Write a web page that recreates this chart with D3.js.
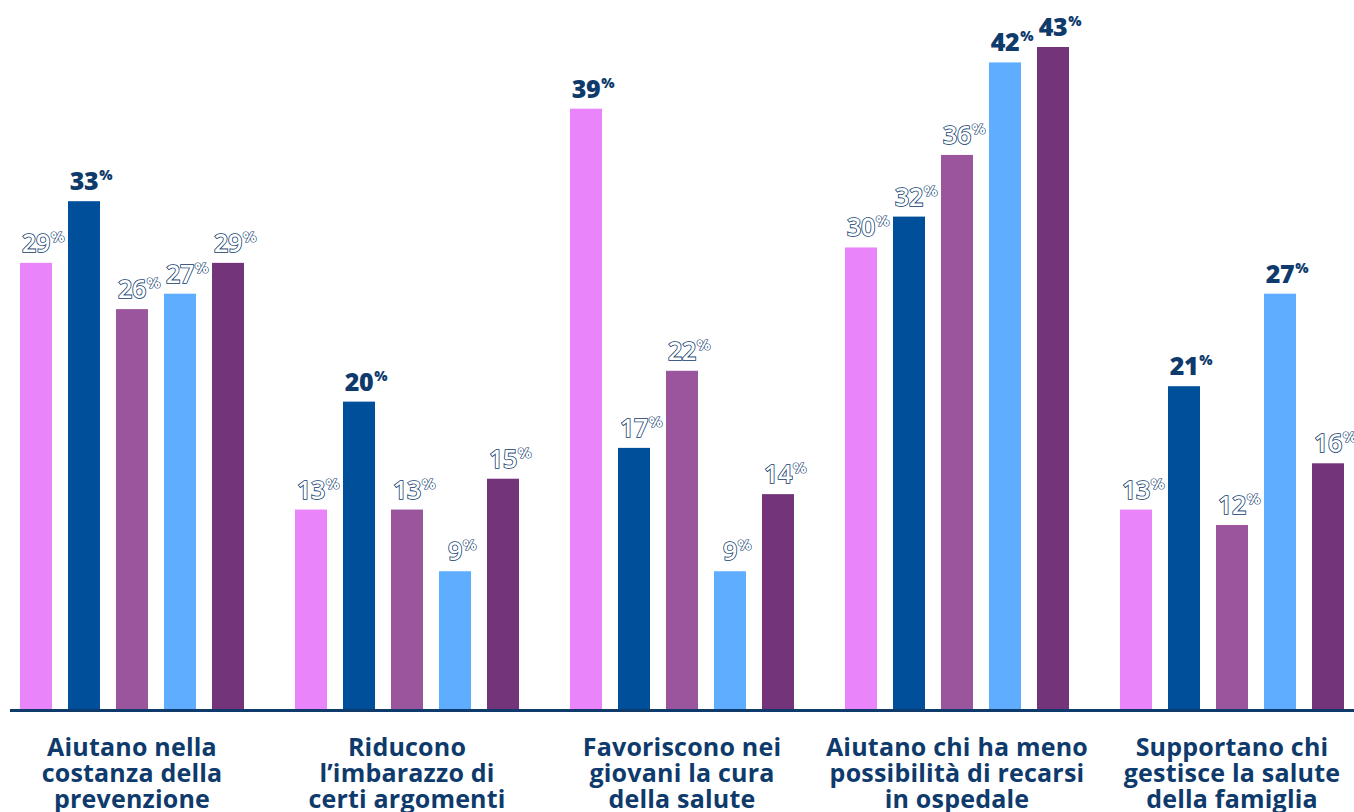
<!DOCTYPE html>
<meta charset="utf-8">
<script src="https://d3js.org/d3.v7.min.js"></script>
<style>body{margin:0;background:#fff}</style>
<div id="chart"></div>
<script>
    const categories = [
        ["Aiutano nella", "costanza della", "prevenzione"],
        ["Riducono", "l’imbarazzo di", "certi argomenti"],
        ["Favoriscono nei", "giovani la cura", "della salute"],
        ["Aiutano chi ha meno", "possibilità di recarsi", "in ospedale"],
        ["Supportano chi", "gestisce la salute", "della famiglia"]
    ];
    const series = ["s1", "s2", "s3", "s4", "s5"];
    const values = [
        [29, 33, 26, 27, 29],
        [13, 20, 13, 9, 15],
        [39, 17, 22, 9, 14],
        [30, 32, 36, 42, 43],
        [13, 21, 12, 27, 16]
    ];
    // which labels are drawn filled/bold
    const highlight = [
        [0, 1, 0, 0, 0],
        [0, 1, 0, 0, 0],
        [1, 0, 0, 0, 0],
        [0, 0, 0, 1, 1],
        [0, 1, 0, 1, 0]
    ];
    const colors = ["#E984FA", "#004F9B", "#9A559C", "#5EADFF", "#733479"];
    const navy = "#0E3A6C";

    const W = 1354, H = 812, base = 710, font = "'Open Sans', sans-serif";

    const svg = d3.select("#chart").append("svg")
        .attr("width", W).attr("height", H);

    const x1 = d3.scaleBand()
        .domain(series)
        .range([0, 224])
        .paddingInner(1/3).paddingOuter(0);
    // bars of group g start at 20 + 275*g
    const gx = g => 20 + 275*g;

    const y = d3.scaleLinear().domain([0, 43]).range([base, 47]);

    const groups = svg.selectAll("g.grp")
        .data(values)
        .join("g")
        .attr("class", "grp")
        .attr("transform", (d, g) => `translate(${gx(g)},0)`);

    groups.selectAll("rect")
        .data(d => d)
        .join("rect")
        .attr("x", (d, i) => x1(series[i]))
        .attr("y", d => y(d))
        .attr("width", x1.bandwidth())
        .attr("height", d => base - y(d))
        .attr("fill", (d, i) => colors[i]);

    groups.each(function (vals, g) {
        const grp = d3.select(this);
        vals.forEach((v, i) => {
            const cx = x1(series[i]) + x1.bandwidth()/2;
            const hl = highlight[g][i];
            const t = grp.append("text")
                .attr("x", cx)
                .attr("y", y(v) - 11)
                .attr("text-anchor", "middle")
                .attr("font-family", font)
                .attr("font-size", 25)
                .attr("font-weight", hl ? 800 : 600)
                .attr("letter-spacing", -0.3)
                .attr("fill", hl ? navy : "#fff")
                .attr("stroke", hl ? "none" : navy)
                .attr("stroke-width", 1.6)
                .attr("paint-order", "stroke")
                .text(v);
            const w = t.node().getComputedTextLength();
            grp.append("text")
                .attr("x", cx + w/2 + 1)
                .attr("y", y(v) - 21)
                .attr("font-family", font)
                .attr("font-size", 14)
                .attr("font-weight", 800)
                .attr("fill", hl ? navy : "#fff")
                .attr("stroke", hl ? "none" : navy)
                .attr("stroke-width", 1.2)
                .attr("paint-order", "stroke")
                .text("%");
        });
    });

    svg.append("line")
        .attr("x1", 10).attr("x2", W)
        .attr("y1", base + 0.5).attr("y2", base + 0.5)
        .attr("stroke", navy).attr("stroke-width", 3);

    categories.forEach((lines, g) => {
        const t = svg.append("text")
            .attr("x", gx(g) + 112)
            .attr("y", 756)
            .attr("text-anchor", "middle")
            .attr("font-family", font)
            .attr("font-size", 25)
            .attr("letter-spacing", 0.2)
            .attr("font-weight", 700)
            .attr("fill", navy);
        lines.forEach((l, k) => {
            t.append("tspan")
                .attr("x", gx(g) + 112)
                .attr("dy", k ? 26 : 0)
                .text(l);
        });
    });
</script>
